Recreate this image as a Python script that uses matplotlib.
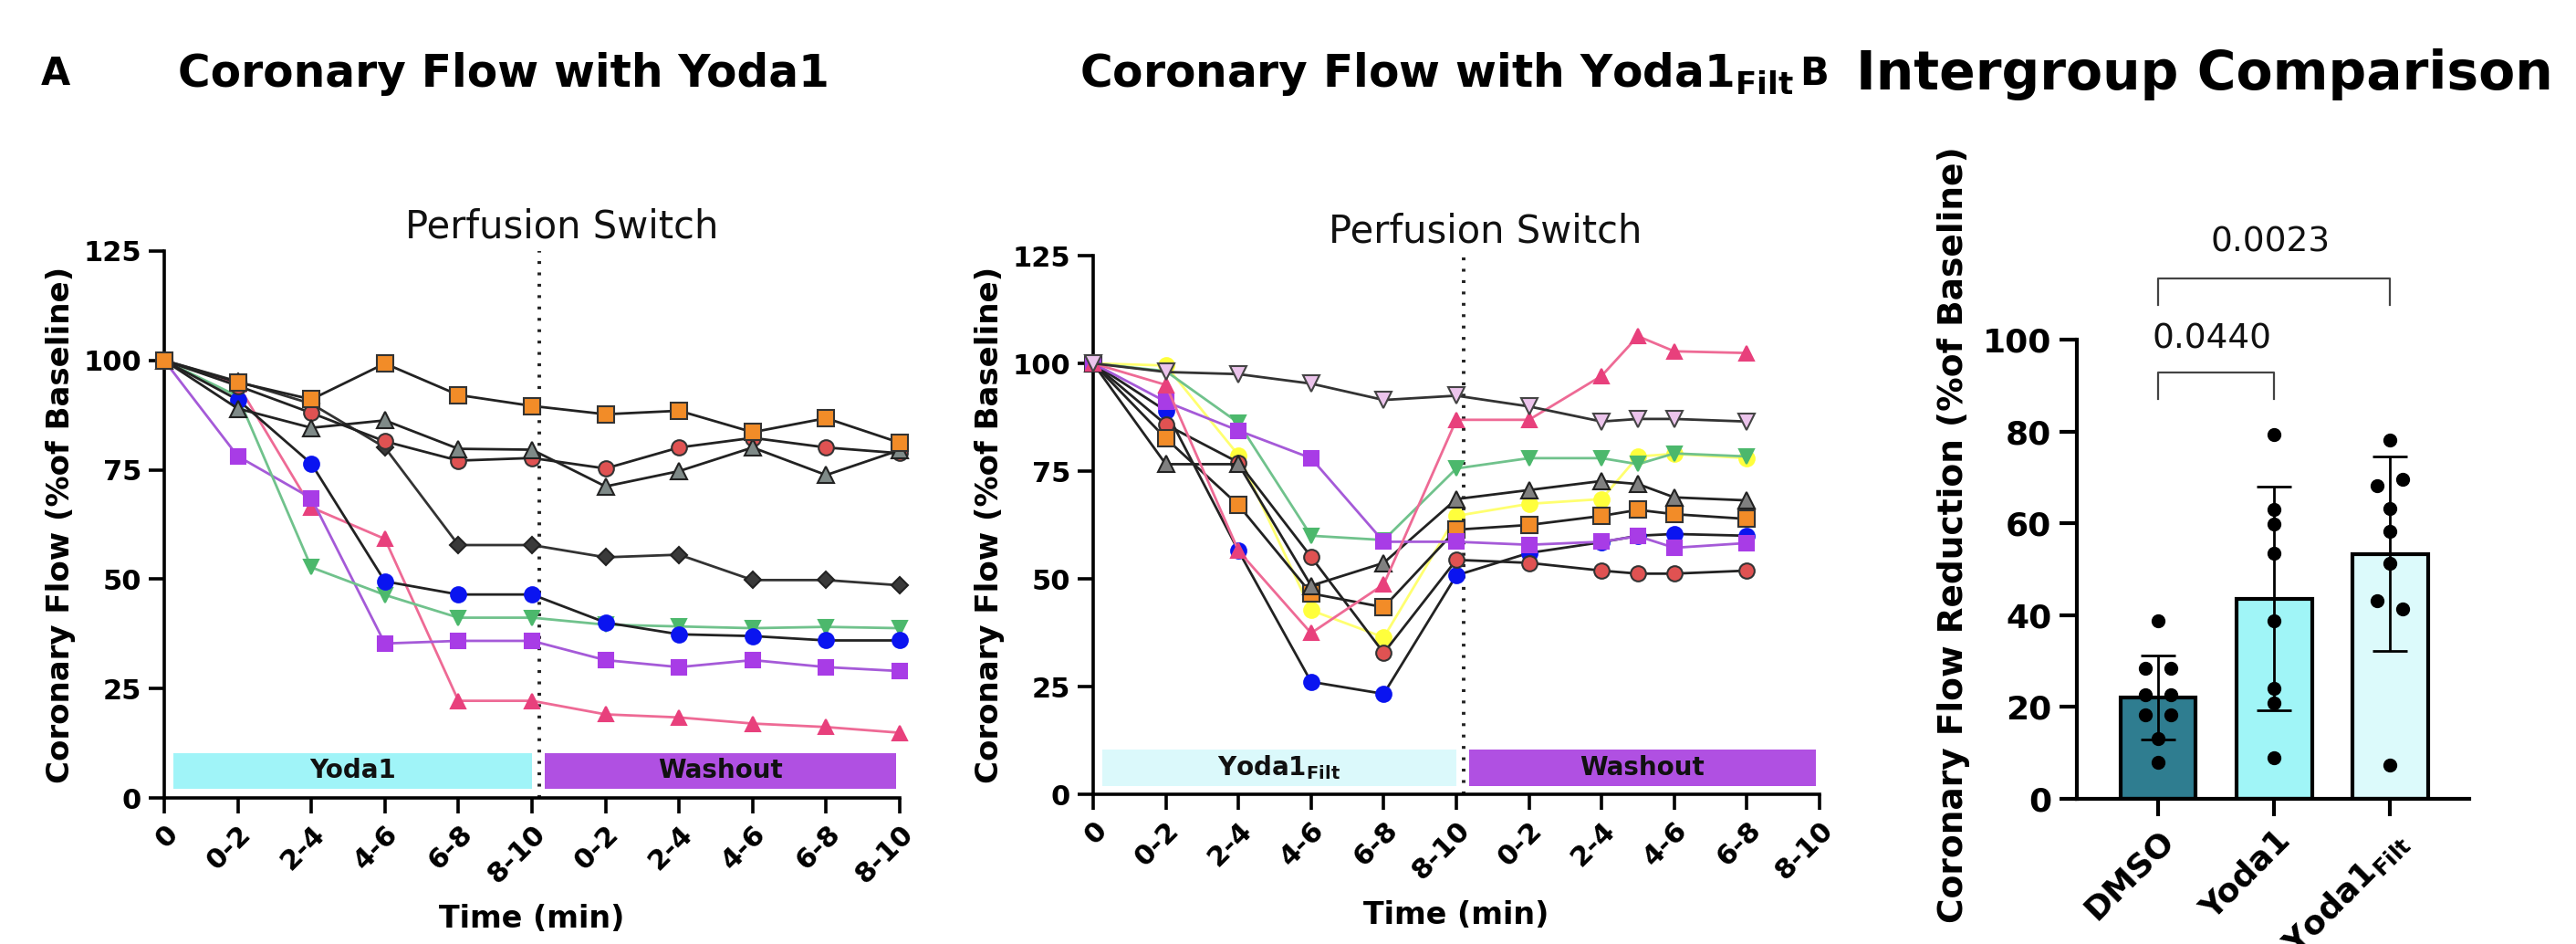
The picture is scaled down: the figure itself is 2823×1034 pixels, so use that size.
import matplotlib
matplotlib.use('Agg')
import matplotlib.pyplot as plt
import numpy as np

plt.rcParams['font.family'] = ['DejaVu Sans']
plt.rcParams['mathtext.fontset'] = 'dejavusans'

# ---------------- data ----------------
time_labels = ['0', '0-2', '2-4', '4-6', '6-8', '8-10', '0-2', '2-4', '4-6', '6-8', '8-10']
left_x = [0, 1, 2, 3, 4, 5, 6, 7, 8, 9, 10]
mid_x = [0, 1, 2, 3, 4, 5, 6, 7, 7.5, 8, 9]

# Panel A, left: Coronary flow with Yoda1 (% of baseline)
y1_orange = [100, 95, 91.1, 99.3, 92.1, 89.6, 87.7, 88.5, 83.6, 86.8, 81.2]
y1_grey = [100, 89.0, 84.6, 86.3, 79.8, 79.6, 71.2, 74.7, 80.1, 73.8, 79.5]
y1_red = [100, 94.2, 88.0, 81.5, 77.1, 77.7, 75.3, 80.1, 82.3, 80.1, 78.8]
y1_diamond = [100, 95.2, 90.1, 80.1, 57.8, 57.8, 55.0, 55.6, 49.8, 49.8, 48.6]
y1_blue = [100, 91, 76.4, 49.5, 46.5, 46.5, 40.1, 37.4, 37.0, 36.0, 36.0]
y1_green = [100, 91.8, 52.7, 46.4, 41.2, 41.2, 39.6, 39.2, 38.8, 39.1, 38.8]
y1_purple = [100, 78.1, 68.5, 35.3, 35.9, 35.9, 31.5, 29.9, 31.5, 29.9, 29.0]
y1_pink = [100, 94.5, 66.4, 59.2, 22.2, 22.2, 19.1, 18.4, 17.0, 16.2, 14.9]

# Panel A, middle: Coronary flow with Yoda1Filt (% of baseline)
yf_lilac = [100, 98, 97.5, 95.3, 91.5, 92.5, 90.0, 86.5, 87.1, 87.1, 86.5]
yf_pink = [100, 95, 56.5, 37.4, 48.7, 86.9, 86.9, 97.1, 106.3, 102.8, 102.4]
yf_green = [100, 98.2, 86.2, 60.0, 59.0, 75.6, 78.0, 78.0, 76.6, 79.1, 78.4]
yf_purple = [100, 91.1, 84.4, 78.0, 58.6, 58.6, 57.9, 58.6, 59.9, 57.2, 58.3]
yf_blue = [100, 89, 56.5, 26.1, 23.3, 50.8, 56.0, 58.5, 60.0, 60.4, 60.0]
yf_red = [100, 85.8, 77, 55.1, 32.8, 54.4, 53.7, 51.9, 51.2, 51.2, 51.9]
yf_grey = [100, 76.6, 76.6, 48.4, 53.7, 68.5, 70.6, 72.7, 72.0, 68.9, 68.2]
yf_orange = [100, 82.6, 67.1, 46.6, 43.4, 61.4, 62.5, 64.6, 66.0, 65.0, 63.9]
yf_yellow = [100, 99.5, 78.7, 42.7, 36.4, 64.6, 67.4, 68.5, 78.4, 79.0, 78.0]

# Panel B: coronary flow reduction (% of baseline)
group_labels = ['DMSO', 'Yoda1', 'Yoda1$_{\\mathregular{Filt}}$']
dmso_pts = [38.7, 28.5, 28.5, 22.7, 22.7, 18.2, 18.2, 13.1, 7.9]
yoda1_pts = [79.4, 63.1, 59.9, 53.5, 38.7, 24.0, 20.8, 9.0]
filt_pts = [78.2, 68.2, 69.5, 63.3, 58.2, 51.2, 43.2, 41.3, 7.3]
p_labels = ['0.0440', '0.0023']

# ---------------- styles ----------------
def sty(mk, fc, ec, lc, ms=13, z=3):
    return dict(marker=mk, mfc=fc, mec=ec, color=lc, ms=ms, zorder=z)

left_series = [
    (y1_pink, sty('^', '#e8407c', '#e8407c', '#ee6a95', 12)),
    (y1_purple, sty('s', '#a83ce6', '#a83ce6', '#a55ad8', 12)),
    (y1_green, sty('v', '#4cb86c', '#4cb86c', '#70c28c', 12)),
    (y1_blue, sty('o', '#0a14f0', '#0a14f0', '#222222', 12)),
    (y1_diamond, sty('D', '#3a3a3a', '#222222', '#333333', 9)),
    (y1_red, sty('o', '#e05252', '#333333', '#222222', 12)),
    (y1_grey, sty('^', '#7f8a88', '#222222', '#222222', 13)),
    (y1_orange, sty('s', '#f28c28', '#333333', '#222222', 13)),
]

mid_series = [
    (yf_yellow, sty('o', '#ffff3c', '#ffff3c', '#ffff70', 12, 2)),
    (yf_blue, sty('o', '#0a14f0', '#0a14f0', '#222222', 12)),
    (yf_red, sty('o', '#e05252', '#333333', '#222222', 12)),
    (yf_orange, sty('s', '#f28c28', '#333333', '#222222', 13)),
    (yf_grey, sty('^', '#808080', '#222222', '#222222', 13)),
    (yf_green, sty('v', '#4cb86c', '#4cb86c', '#70c28c', 12)),
    (yf_purple, sty('s', '#a83ce6', '#a83ce6', '#a55ad8', 12)),
    (yf_pink, sty('^', '#e8407c', '#e8407c', '#ee6a95', 12)),
    (yf_lilac, sty('v', '#ecc4ec', '#444444', '#333333', 13)),
]

TICK_FS = 22
fig = plt.figure(figsize=(28.23, 10.34), dpi=100)


def style_time_axes(ax, band_text, band_color, series, xs):
    for vals, st in series:
        ax.plot(xs, vals, lw=2, mew=1.5, clip_on=False, **st)
    ax.set_xlim(0, 10)
    ax.set_ylim(0, 125)
    ax.set_yticks([0, 25, 50, 75, 100, 125])
    ax.set_xticks(left_x)
    ax.set_xticklabels(time_labels, rotation=45, ha='right', rotation_mode='anchor')
    for s in ['top', 'right']:
        ax.spines[s].set_visible(False)
    for s in ['left', 'bottom']:
        ax.spines[s].set_linewidth(2.6)
    ax.tick_params(direction='out', length=12, width=2.6, labelsize=TICK_FS, pad=6)
    for lab in ax.get_xticklabels() + ax.get_yticklabels():
        lab.set_fontweight('bold')
    ax.set_ylabel('Coronary Flow (%of Baseline)', fontsize=24.5, fontweight='bold', labelpad=6)
    ax.set_xlabel('Time (min)', fontsize=24, fontweight='bold', labelpad=12)
    # bands
    ax.fill_between([0.12, 5.0], 2, 10.3, color=band_color, lw=0, zorder=1)
    ax.fill_between([5.17, 9.95], 2, 10.3, color='#b050e2', lw=0, zorder=1)
    ax.text(2.56, 6.2, band_text, ha='center', va='center', fontsize=20,
            fontweight='bold', color='#111111', zorder=2)
    ax.text(7.56, 6.2, 'Washout', ha='center', va='center', fontsize=20,
            fontweight='bold', color='#111111', zorder=2)
    ax.plot([5.1, 5.1], [0, 125], color='#222222', lw=2.8,
            linestyle=(0, (0.8, 2.4)), zorder=2, clip_on=False)
    ax.text(5.4, 128, 'Perfusion Switch', ha='center', va='baseline',
            fontsize=30, color='#111111')


ax1 = fig.add_axes([180 / 2823, 1 - 874 / 1034, 806 / 2823, 599 / 1034])
style_time_axes(ax1, 'Yoda1', '#a0f4f8', left_series, left_x)

ax2 = fig.add_axes([1198 / 2823, 1 - 870 / 1034, 796 / 2823, 590 / 1034])
style_time_axes(ax2, 'Yoda1$_{\\mathbf{Filt}}$', '#dbf9fb', mid_series, mid_x)

# ---------------- Panel B ----------------
ax3 = fig.add_axes([2276 / 2823, 1 - 875 / 1034, 430 / 2823, 503 / 1034])
groups = [dmso_pts, yoda1_pts, filt_pts]
means = [np.mean(g) for g in groups]
sds = [np.std(g, ddof=1) for g in groups]
bar_colors = ['#2f7d90', '#a0f5f7', '#dcfafb']
xpos = np.arange(3)
ax3.bar(xpos, means, width=0.65, color=bar_colors, edgecolor='black', linewidth=3, zorder=2)
ax3.errorbar(xpos, means, yerr=sds, fmt='none', ecolor='black', elinewidth=2,
             capsize=14, capthick=2, zorder=3)
offsets = [
    [0, -0.11, 0.11, -0.11, 0.11, -0.11, 0.11, 0, 0],
    [0, 0, 0, 0, 0, 0, 0, 0],
    [0, -0.11, 0.11, 0, 0, 0, -0.11, 0.11, 0],
]
for i, g in enumerate(groups):
    ax3.plot(i + np.array(offsets[i]), g, 'o', color='black', ms=10, zorder=4)
ax3.set_xlim(-0.7, 2.68)
ax3.set_ylim(0, 100)
ax3.set_yticks([0, 20, 40, 60, 80, 100])
ax3.set_xticks(xpos)
ax3.set_xticklabels(group_labels, rotation=45, ha='right', rotation_mode='anchor')
for s in ['top', 'right']:
    ax3.spines[s].set_visible(False)
for s in ['left', 'bottom']:
    ax3.spines[s].set_linewidth(3)
ax3.tick_params(direction='out', length=14, width=3, labelsize=26, pad=6)
for lab in ax3.get_xticklabels() + ax3.get_yticklabels():
    lab.set_fontweight('bold')
ax3.set_ylabel('Coronary Flow Reduction (%of Baseline)', fontsize=27, fontweight='bold', labelpad=10)
ax3.yaxis.label.set_y(0.575)
# significance brackets
ax3.plot([0, 0, 1, 1], [87, 92.8, 92.8, 87], color='#444444', lw=1.6, clip_on=False)
ax3.text(0.46, 96.5, p_labels[0], ha='center', va='bottom', fontsize=27, color='#111111')
ax3.plot([0, 0, 2, 2], [107.6, 113.3, 113.3, 107.6], color='#444444', lw=1.6, clip_on=False)
ax3.text(0.97, 117.5, p_labels[1], ha='center', va='bottom', fontsize=27, color='#111111')

# ---------------- titles ----------------
fig.text(45 / 2823, 1 - 81 / 1034, 'A', fontsize=30, fontweight='bold', va='center')
fig.text(195 / 2823, 1 - 81 / 1034, 'Coronary Flow with Yoda1', fontsize=35, fontweight='bold', va='center')
fig.text(1183 / 2823, 1 - 81 / 1034, 'Coronary Flow with Yoda1$_{\\mathbf{Filt}}$', fontsize=35,
         fontweight='bold', va='center')
fig.text(1972 / 2823, 1 - 81 / 1034, 'B', fontsize=30, fontweight='bold', va='center')
fig.text(2034 / 2823, 1 - 81 / 1034, 'Intergroup Comparison', fontsize=42, fontweight='bold', va='center')

fig.savefig('out.png', dpi=100)
